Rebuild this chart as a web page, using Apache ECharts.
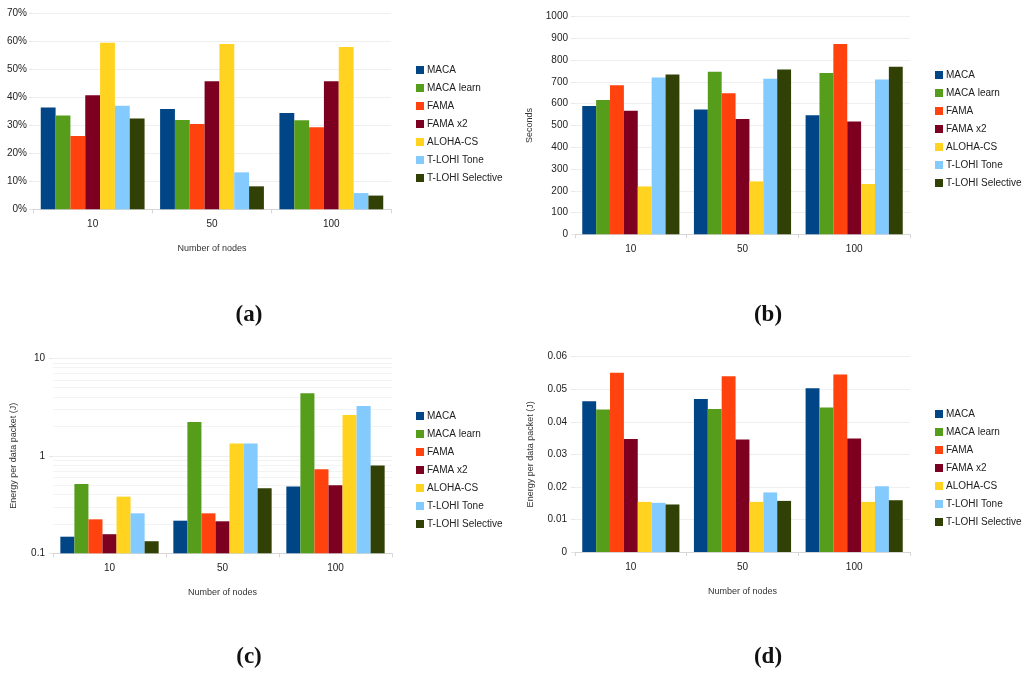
<!DOCTYPE html>
<html><head><meta charset="utf-8">
<script src="https://cdn.jsdelivr.net/npm/echarts@6/dist/echarts.min.js"></script>
<style>html,body{margin:0;padding:0;background:#fff}#c{width:1024px;height:676px}</style>
</head><body><div id="c"></div><script>
const categories = ['10', '50', '100'];
const seriesNames = ['MACA', 'MACA learn', 'FAMA', 'FAMA x2', 'ALOHA-CS', 'T-LOHI Tone', 'T-LOHI Selective'];
const colors = ['#004586', '#579d1c', '#ff420e', '#7e0021', '#ffd320', '#83caff', '#314004'];

// (a) percentage, per series over [10, 50, 100]
const aValues = [
  [36.4, 35.8, 34.4],
  [33.5, 31.9, 31.8],
  [26.2, 30.5, 29.3],
  [40.7, 45.7, 45.7],
  [59.5, 59.0, 58.0],
  [37.0, 13.2, 5.8],
  [32.4, 8.2, 4.9]
];
// (b) seconds
const bValues = [
  [590, 574, 547],
  [617, 747, 741],
  [685, 648, 874],
  [568, 530, 518],
  [220, 243, 231],
  [721, 715, 711],
  [734, 757, 770]
];
// (c) energy per data packet (J), log scale
const cValues = [
  [0.148, 0.216, 0.483],
  [0.514, 2.22, 4.38],
  [0.223, 0.257, 0.728],
  [0.157, 0.213, 0.498],
  [0.381, 1.34, 2.62],
  [0.257, 1.34, 3.24],
  [0.133, 0.465, 0.794]
];
// (d) energy per data packet (J)
const dValues = [
  [0.0463, 0.0470, 0.0503],
  [0.0438, 0.0439, 0.0444],
  [0.0551, 0.0540, 0.0545],
  [0.0347, 0.0346, 0.0349],
  [0.0154, 0.0154, 0.0154],
  [0.0151, 0.0183, 0.0202],
  [0.0146, 0.0157, 0.0159]
];
const logMinorTicks = [0.2, 0.3, 0.4, 0.5, 0.6, 0.7, 0.8, 0.9, 2, 3, 4, 5, 6, 7, 8, 9];
const panelLabels = ['(a)', '(b)', '(c)', '(d)'];

const FONT = "'Liberation Sans', Arial, sans-serif";
const grids = [
  { left: 33, top: 13.3, width: 358, height: 196 },
  { left: 575, top: 16.7, width: 335, height: 217.6 },
  { left: 53, top: 358.3, width: 339, height: 195 },
  { left: 575, top: 356.7, width: 335, height: 195.3 }
];
const xNames = ['Number of nodes', '', 'Number of nodes', 'Number of nodes'];
const legendPos = [
  { left: 416, top: 63.5 },
  { left: 935, top: 68.5 },
  { left: 416, top: 409.5 },
  { left: 935, top: 407.5 }
];
const labelPos = [[249, 315], [768, 315], [249, 657], [768, 657]];

const nameStyle = { fontFamily: FONT, fontSize: 9, color: '#333' };
const xAxes = grids.map((g, i) => ({
  type: 'category', gridIndex: i, data: categories,
  name: xNames[i], nameLocation: 'middle', nameGap: 35,
  nameTextStyle: nameStyle,
  axisLine: { show: true, lineStyle: { color: '#d6d6d6' } },
  axisTick: { show: true, length: 4, lineStyle: { color: '#d6d6d6' } },
  axisLabel: { fontFamily: FONT, fontSize: 10, color: '#222', margin: 10 },
  splitLine: { show: false }
}));
const axisLbl = { fontFamily: FONT, fontSize: 10, color: '#222', margin: 7 };
const splitL = { show: true, lineStyle: { color: '#efefef' } };
const yTick = { show: true, length: 4, lineStyle: { color: '#e6e6e6' } };
const yAxes = [
  { type: 'value', gridIndex: 0, min: 0, max: 70, interval: 10,
    axisLabel: Object.assign({}, axisLbl, { formatter: '{value}%', margin: 6 }),
    axisLine: { show: false }, axisTick: yTick, splitLine: splitL },
  { type: 'value', gridIndex: 1, min: 0, max: 1000, interval: 100,
    name: 'Seconds', nameLocation: 'middle', nameGap: 41,
    nameTextStyle: nameStyle,
    axisLabel: Object.assign({}, axisLbl, { formatter: v => String(v) }),
    axisLine: { show: false }, axisTick: yTick, splitLine: splitL },
  { type: 'log', logBase: 10, gridIndex: 2, min: 0.1, max: 10, startValue: 0.1,
    name: 'Energy per data packet (J)', nameLocation: 'middle', nameGap: 35,
    nameTextStyle: nameStyle,
    axisLabel: Object.assign({}, axisLbl, { margin: 8 }),
    axisLine: { show: false }, axisTick: yTick, splitLine: splitL },
  { type: 'value', gridIndex: 3, min: 0, max: 0.06, interval: 0.01,
    name: 'Energy per data packet (J)', nameLocation: 'middle', nameGap: 40,
    nameTextStyle: nameStyle,
    axisLabel: Object.assign({}, axisLbl, { margin: 8 }),
    axisLine: { show: false }, axisTick: yTick, splitLine: splitL }
];

const panels = [aValues, bValues, cValues, dValues];
const series = [];
panels.forEach((vals, p) => {
  vals.forEach((arr, s) => {
    series.push({
      type: 'bar', name: seriesNames[s], xAxisIndex: p, yAxisIndex: p,
      data: arr, barGap: '0%', barCategoryGap: '13%', z: 3,
      itemStyle: { color: colors[s] }
    });
  });
});
// faint minor grid lines of the log axis in panel (c), drawn beneath the bars
series.push({
  type: 'line', name: 'log minor grid', xAxisIndex: 2, yAxisIndex: 2, data: [], z: 1,
  markLine: {
    silent: true, symbol: 'none', label: { show: false }, animation: false, z: 1,
    lineStyle: { color: '#f3f3f3', type: 'solid', width: 1 },
    data: logMinorTicks.map(v => ({ yAxis: v }))
  }
});

const legends = legendPos.map(pos => ({
  left: pos.left, top: pos.top, orient: 'vertical', data: seriesNames, padding: 0,
  icon: 'rect', itemWidth: 8, itemHeight: 8, itemGap: 5,
  selectedMode: false,
  textStyle: { fontFamily: FONT, fontSize: 10, color: '#222', lineHeight: 13, padding: [0, 0, 0, -2] }
}));

const graphics = panelLabels.map((t, i) => ({
  type: 'text', x: labelPos[i][0], y: labelPos[i][1],
  style: { text: t, fontFamily: "'Liberation Serif', 'DejaVu Serif', serif", fontWeight: 'bold',
    fontSize: 23, fill: '#111', textAlign: 'center', textVerticalAlign: 'middle' }
}));

const chart = echarts.init(document.getElementById('c'));
chart.setOption({
  animation: false,
  backgroundColor: '#fff',
  color: colors,
  grid: grids,
  xAxis: xAxes,
  yAxis: yAxes,
  legend: legends,
  series: series,
  graphic: graphics
});
</script></body></html>
